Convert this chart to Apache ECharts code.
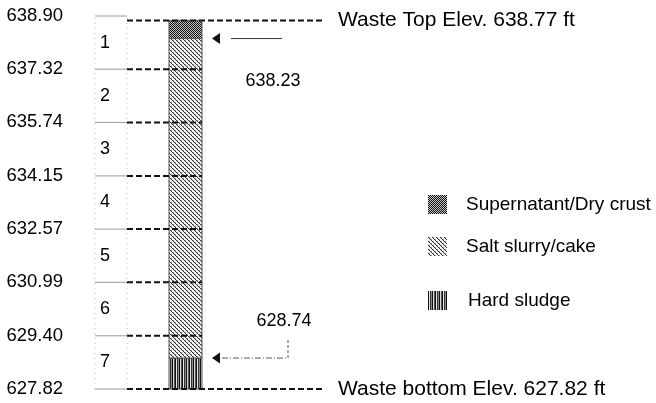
<!DOCTYPE html>
<html><head><meta charset="utf-8">
<script src="https://cdn.jsdelivr.net/npm/echarts@6/dist/echarts.min.js"></script>
<style>html,body{margin:0;padding:0;background:#fff}#c{width:656px;height:403px}</style>
</head><body><div id="c"></div>
<script>
// ---- data ----
const tickValues = [627.82, 629.40, 630.99, 632.57, 634.15, 635.74, 637.32, 638.90];
const tickLabels = ['627.82', '629.40', '630.99', '632.57', '634.15', '635.74', '637.32', '638.90'];
const segmentNames = ['7', '6', '5', '4', '3', '2', '1'];
const layerNames = ['Hard sludge', 'Salt slurry/cake', 'Supernatant/Dry crust'];
const layerBottoms = [627.82, 628.74, 638.23];
const layerTops = [628.74, 638.23, 638.77];
const wasteTop = 638.77;
const wasteBottom = 627.82;
const calloutValues = [638.23, 628.74];
const calloutLabels = ['638.23', '628.74'];

// ---- layout (pixels relative to grid left) ----
const FONT = "'Liberation Sans', Arial, Helvetica, sans-serif";
const X = { tickL: 0, tickR: 32, colL: 74, colR: 107, lineR: 227, seg: 10, text: 243 };

function pat(w, h, draw) {
  const c = document.createElement('canvas'); c.width = w; c.height = h;
  const g = c.getContext('2d'); draw(g); return { image: c, repeat: 'repeat' };
}
const fillSuper = pat(2, 2, g => { g.fillStyle = '#c4c4c4'; g.fillRect(0, 0, 2, 2); g.fillStyle = '#111'; g.fillRect(0, 0, 1, 1); g.fillRect(1, 1, 1, 1); });
const fillSalt = pat(4, 4, g => { g.fillStyle = '#f2f2f2'; g.fillRect(0, 0, 4, 4); g.fillStyle = '#333'; for (let i = 0; i < 4; i++) g.fillRect(i, i, 1, 1); g.fillStyle = '#999'; g.fillRect(1, 0, 1, 1); g.fillRect(3, 2, 1, 1); });
const fillSludge = pat(7, 1, g => { const cols = ['#111', '#e8e8e8', '#333', '#888', '#111', '#d8d8d8', '#555']; cols.forEach((c, i) => { g.fillStyle = c; g.fillRect(i, 0, 1, 1); }); });
const fills = [fillSludge, fillSalt, fillSuper];

const chart = echarts.init(document.getElementById('c'), null, { renderer: 'canvas' });

function nearestLabel(v) {
  let best = 0;
  tickValues.forEach((t, i) => { if (Math.abs(t - v) < Math.abs(tickValues[best] - v)) best = i; });
  return tickLabels[best];
}
function line(p0, p1, style) { return { type: 'line', shape: { x1: p0[0], y1: p0[1], x2: p1[0], y2: p1[1] }, style }; }
function txt(x, y, text, size, align) {
  return { type: 'text', x, y, style: { text, fontSize: size, fontFamily: FONT, fill: '#000', align: align || 'left', verticalAlign: 'middle' } };
}

const series = [];
// column layers
layerNames.forEach((name, i) => {
  series.push({
    type: 'custom', name, coordinateSystem: 'cartesian2d', clip: false, z: 2,
    itemStyle: { color: fills[i] },
    data: [[layerBottoms[i], layerTops[i]]], encode: { y: [0, 1] },
    renderItem: (params, api) => {
      const p0 = api.coord([X.colL, api.value(0)]);
      const p1 = api.coord([X.colR, api.value(1)]);
      return { type: 'rect', shape: { x: p0[0], y: p1[1], width: p1[0] - p0[0], height: p0[1] - p1[1] },
        style: { fill: fills[i], stroke: '#555', lineWidth: 1 } };
    }
  });
});
// faint table frame + grey ticks
series.push({
  type: 'custom', name: 'frame', clip: false, z: 1, silent: true,
  data: tickValues.map(v => [v]), encode: { y: 0 },
  renderItem: (params, api) => {
    const v = api.value(0);
    const children = [line(api.coord([X.tickL, v]), api.coord([X.tickR, v]), { stroke: '#999', lineWidth: 1 })];
    if (params.dataIndex === 0) {
      const top = tickValues[tickValues.length - 1];
      children.push(line(api.coord([X.tickL, v]), api.coord([X.tickL, top]), { stroke: '#bbb', lineWidth: 1, lineDash: [1, 4] }));
      children.push(line(api.coord([X.tickR, v]), api.coord([X.tickR, top]), { stroke: '#bbb', lineWidth: 1, lineDash: [1, 4] }));
    }
    return { type: 'group', children };
  }
});
// segment numbers
series.push({
  type: 'custom', name: 'segments', clip: false, z: 3, silent: true,
  data: segmentNames.map((s, i) => [tickValues[i], tickValues[i + 1]]), encode: { y: [0, 1] },
  renderItem: (params, api) => {
    const mid = (api.value(0) + api.value(1)) / 2;
    const p = api.coord([X.seg, mid]);
    return txt(p[0], p[1], segmentNames[params.dataIndex], 18, 'center');
  }
});
// inner boundaries (dashed)
series.push({
  type: 'custom', name: 'boundaries', clip: false, z: 5, silent: true,
  data: tickValues.slice(1, tickValues.length - 1).map(v => [v]), encode: { y: 0 },
  renderItem: (params, api) => line(api.coord([X.tickR, api.value(0)]), api.coord([X.colR, api.value(0)]),
    { stroke: '#111', lineWidth: 2, lineDash: [6, 3] })
});
// waste top / bottom
const wasteTexts = ['Waste Top Elev. ' + wasteTop.toFixed(2) + ' ft', 'Waste bottom Elev. ' + wasteBottom.toFixed(2) + ' ft'];
series.push({
  type: 'custom', name: 'waste', clip: false, z: 5, silent: true,
  data: [[wasteTop], [wasteBottom]], encode: { y: 0 },
  renderItem: (params, api) => {
    const v = api.value(0);
    const a = api.coord([X.tickR, v]), b = api.coord([X.lineR, v]);
    const t = api.coord([X.text, v]);
    return { type: 'group', children: [
      line(a, b, { stroke: '#111', lineWidth: 2, lineDash: [6, 3] }),
      txt(t[0], t[1], wasteTexts[params.dataIndex], 21)
    ] };
  }
});
// callouts
series.push({
  type: 'custom', name: 'callouts', clip: false, z: 5, silent: true,
  data: calloutValues.map(v => [v]), encode: { y: 0 },
  renderItem: (params, api) => {
    const v = api.value(0);
    const p = api.coord([X.colR, v]);
    const y = p[1];
    const tip = p[0] + 10;
    const head = { type: 'polygon', shape: { points: [[tip, y], [tip + 8, y - 5.5], [tip + 8, y + 5.5]] }, style: { fill: '#111' } };
    const children = [head];
    if (params.dataIndex === 0) {
      children.push(line([p[0] + 29, y], [p[0] + 80, y], { stroke: '#333', lineWidth: 1 }));
      children.push(txt(p[0] + 71, y + 42, calloutLabels[0], 18, 'center'));
    } else {
      children.push(line([p[0] + 20, y], [p[0] + 86, y], { stroke: '#555', lineWidth: 1, lineDash: [6, 2, 1, 2] }));
      children.push(line([p[0] + 86, y], [p[0] + 86, y - 20], { stroke: '#555', lineWidth: 1, lineDash: [3, 2] }));
      children.push(txt(p[0] + 82, y - 37, calloutLabels[1], 18, 'center'));
    }
    return { type: 'group', children };
  }
});

const legendTops = [291, 237, 195];
const legendPad = [16, 14, 14];
const legends = layerNames.map((name, i) => ({
  show: true, left: 428, top: legendTops[i], orient: 'vertical', padding: 0,
  itemWidth: 19, itemHeight: 19, icon: 'rect', selectedMode: false,
  data: [{ name, icon: 'rect', itemStyle: { color: fills[i], borderWidth: 0 } }],
  textStyle: { fontSize: 19, fontFamily: FONT, color: '#000', padding: [0, 0, 0, legendPad[i]] }
}));

chart.setOption({
  animation: false,
  backgroundColor: '#fff',
  grid: { left: 95, right: 0, top: 16, bottom: 14 },
  xAxis: { type: 'value', min: 0, max: 561, show: false },
  yAxis: {
    type: 'value', min: tickValues[0], max: tickValues[tickValues.length - 1],
    axisLine: { show: false }, axisTick: { show: false }, splitLine: { show: false },
    axisLabel: { customValues: tickValues, showMinLabel: true, showMaxLabel: true, formatter: v => nearestLabel(v),
      margin: 32, fontSize: 18.5, fontFamily: FONT, color: '#000' }
  },
  legend: legends,
  series
});
</script>
</body></html>
